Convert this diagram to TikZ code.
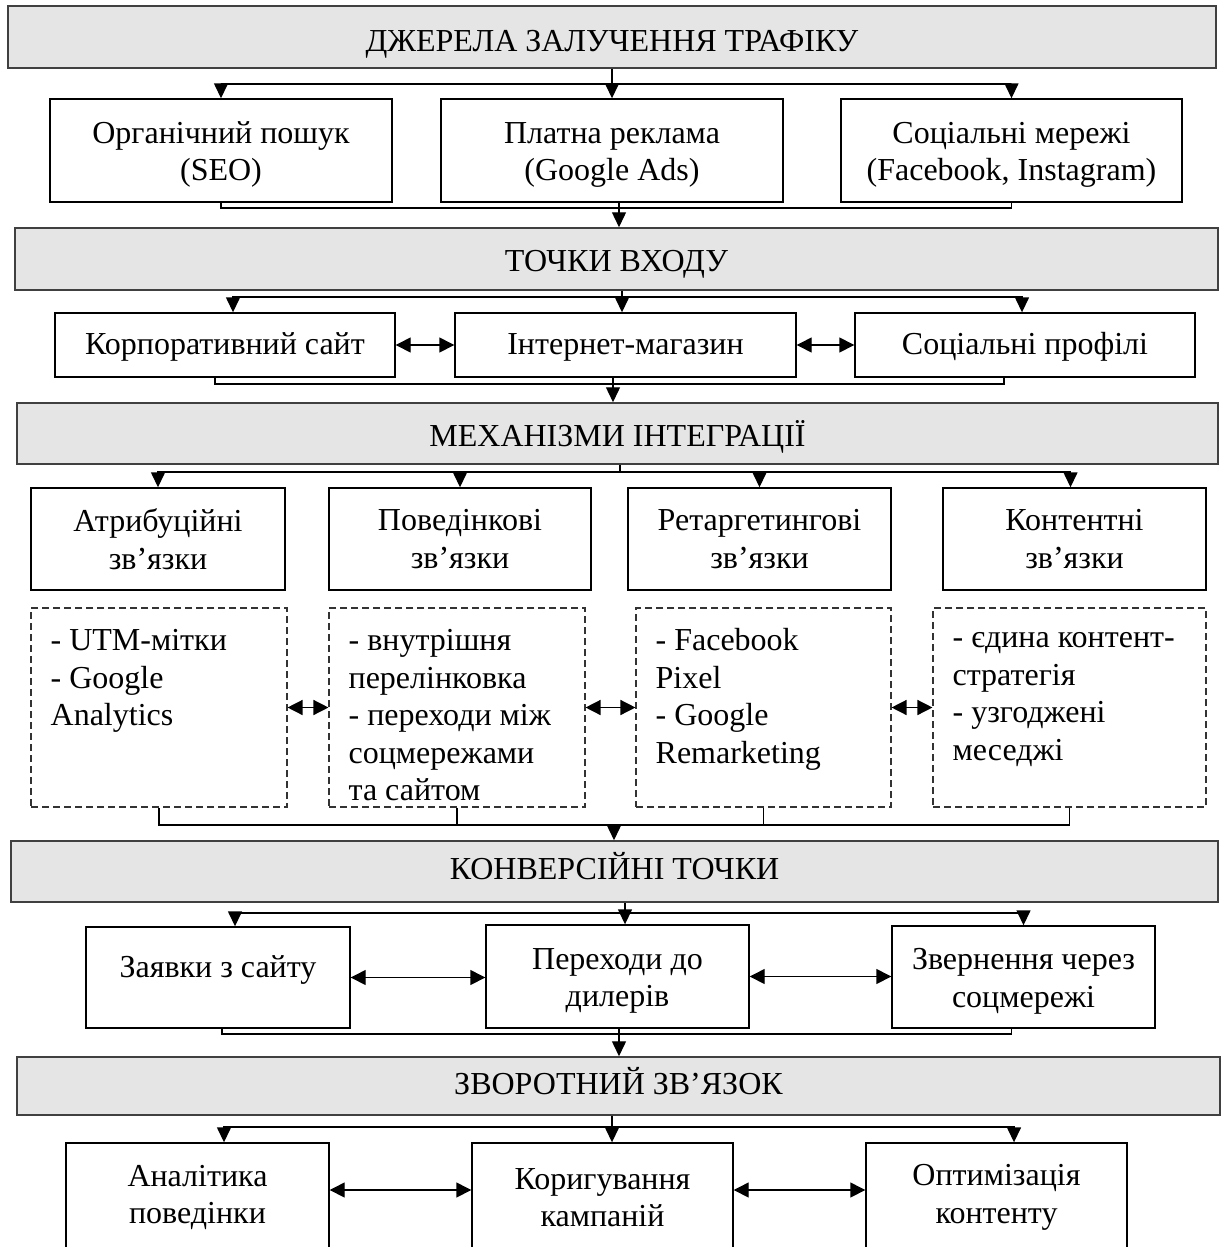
\documentclass[tikz,border=0pt]{standalone}
\usepackage{fontspec}
\setmainfont{Liberation Serif}
\usetikzlibrary{arrows.meta}
\newcommand{\lowr}{\rule{0pt}{30pt}}
\begin{document}
\begin{tikzpicture}[x=1pt,y=-1pt,
  font=\fontsize{32}{37.5}\selectfont,
  hdr/.style={draw=black!75,line width=1.5pt,fill=black!10,inner sep=0pt},
  box/.style={draw=black,line width=1.4pt,align=center,inner sep=0pt},
  dbox/.style={draw=black!80,line width=1.1pt,dash pattern=on 7pt off 4pt,inner sep=0pt},
  dtext/.style={anchor=north west,inner sep=0pt,align=left},
  ln/.style={draw=black,line width=1.4pt},
  arr/.style={ln,-{Triangle[length=15pt,width=14pt]}},
  darr/.style={ln,{Triangle[length=15pt,width=15pt]}-{Triangle[length=15pt,width=15pt]}}]
\useasboundingbox (0,0) rectangle (1223,1247);
\clip (0,0) rectangle (1223,1247);
\fill[white] (0,0) rectangle (1223,1247);

% headers
\node[hdr,minimum width=1208pt,minimum height=62pt,text height=29pt,text depth=0pt] (h1) at (612,37) {ДЖЕРЕЛА ЗАЛУЧЕННЯ ТРАФІКУ};
\node[hdr,minimum width=1203pt,minimum height=62pt,text height=25pt,text depth=0pt] (h2) at (616.5,259) {ТОЧКИ ВХОДУ};
\node[hdr,minimum width=1201pt,minimum height=61pt,text height=25pt,text depth=0pt] (h3) at (617.5,433.5) {МЕХАНІЗМИ ІНТЕГРАЦІЇ};
\node[hdr,minimum width=1207pt,minimum height=61pt,text height=22pt,text depth=6pt] (h4) at (614.5,871.5) {КОНВЕРСІЙНІ ТОЧКИ};
\node[hdr,minimum width=1203pt,minimum height=58pt,text height=22pt,text depth=6pt] (h5) at (618.5,1086) {ЗВОРОТНИЙ ЗВ’ЯЗОК};

% row 1
\node[box,minimum width=342pt,minimum height=103pt] (b11) at (221,150.5) {\lowr Органічний пошук\\(SEO)};
\node[box,minimum width=342pt,minimum height=103pt] (b12) at (612,150.5) {\lowr Платна реклама\\(Google Ads)};
\node[box,minimum width=341pt,minimum height=103pt] (b13) at (1011.5,150.5) {\lowr Соціальні мережі\\(Facebook, Instagram)};

% row 2
\node[box,minimum width=340pt,minimum height=64pt,text height=25pt,text depth=6pt] (b21) at (225,345) {Корпоративний сайт};
\node[box,minimum width=341pt,minimum height=64pt,text height=25pt,text depth=6pt] (b22) at (625.5,345) {Інтернет-магазин};
\node[box,minimum width=340pt,minimum height=64pt,text height=25pt,text depth=6pt] (b23) at (1025,345) {Соціальні профілі};

% row 3
\node[box,minimum width=254pt,minimum height=102pt] (b31) at (158,539) {Атрибуційні\\зв’язки};
\node[box,minimum width=262pt,minimum height=102pt] (b32) at (460,539) {Поведінкові\\зв’язки};
\node[box,minimum width=263pt,minimum height=102pt] (b33) at (759.5,539) {Ретаргетингові\\зв’язки};
\node[box,minimum width=263pt,minimum height=102pt] (b34) at (1074.5,539) {Контентні\\зв’язки};

% row 4 (dashed)
\node[dbox,minimum width=256pt,minimum height=199pt] (d1) at (159,707.5) {};
\node[dbox,minimum width=256pt,minimum height=199pt] (d2) at (457,707.5) {};
\node[dbox,minimum width=255pt,minimum height=199pt] (d3) at (763.5,707.5) {};
\node[dbox,minimum width=273pt,minimum height=199pt] (d4) at (1069.5,707.5) {};
\node[dtext] (d1t) at ([xshift=20pt,yshift=-17pt]d1.north west) {\strut- UTM-мітки\\- Google\\Analytics};
\node[dtext] (d2t) at ([xshift=20pt,yshift=-17pt]d2.north west) {\strut- внутрішня\\перелінковка\\- переходи між\\соцмережами\\та сайтом};
\node[dtext] (d3t) at ([xshift=20pt,yshift=-17pt]d3.north west) {\strut- Facebook\\Pixel\\- Google\\Remarketing};
\node[dtext] (d4t) at ([xshift=20pt,yshift=-14pt]d4.north west) {\strut- єдина контент-\\стратегія\\- узгоджені\\меседжі};

% row 5
\node[box,minimum width=264pt,minimum height=101pt,text height=22pt,text depth=22pt] (b51) at (218,977.5) {Заявки з сайту};
\node[box,minimum width=263pt,minimum height=103pt] (b52) at (617.5,976.5) {\lowr Переходи до\\дилерів};
\node[box,minimum width=263pt,minimum height=102pt] (b53) at (1023.5,977) {\lowr Звернення через\\соцмережі};

% row 6
\node[box,minimum width=263pt,minimum height=109pt] (b61) at (197.5,1197.5) {Аналітика\\поведінки};
\node[box,minimum width=261pt,minimum height=109pt] (b62) at (602.5,1197.5) {Коригування\\кампаній};
\node[box,minimum width=261pt,minimum height=109pt] (b63) at (996.5,1197.5) {Оптимізація\\контенту};

% fork 1
\coordinate (f1) at (612,84);
\draw[ln] (h1.south -| f1) -- (f1);
\draw[arr] (f1) -| (b11.north);
\draw[arr] (f1) -- (b12.north);
\draw[arr] (f1) -| (b13.north);
% collector 1
\coordinate (c1) at (619,208);
\draw[ln] (b11.south) |- (c1);
\draw[ln] (b13.south) |- (c1);
\draw[arr] (b12.south -| c1) -- (h2.north -| c1);

% fork 2
\coordinate (f2) at (622,297);
\draw[ln] (h2.south -| f2) -- (f2);
\draw[arr] (f2) -| ([xshift=8pt]b21.north);
\draw[arr] (f2) -- (b22.north -| f2);
\draw[arr] (f2) -| ([xshift=-3pt]b23.north);
\draw[darr] (b21.east) -- (b22.west);
\draw[darr] (b22.east) -- (b23.west);
% collector 2
\coordinate (c2) at (613,384);
\draw[ln] ([xshift=-10pt]b21.south) |- (c2);
\draw[ln] ([xshift=-21pt]b23.south) |- (c2);
\draw[arr] (b22.south -| c2) -- (h3.north -| c2);

% fork 3
\coordinate (f3) at (620,472);
\draw[ln] (h3.south -| f3) -- (f3);
\draw[arr] (f3) -| (b31.north);
\draw[arr] (f3) -| (b32.north);
\draw[arr] (f3) -| (b33.north);
\draw[arr] (f3) -| ([xshift=-4pt]b34.north);

% row 4 links
\draw[darr] (d1.east) -- (d2.west);
\draw[darr] (d2.east) -- (d3.west);
\draw[darr] (d3.east) -- (d4.west);
% collector 4
\coordinate (c4) at (614,825);
\draw[ln] (d1.south) |- (c4);
\draw[ln] (d2.south) |- (c4);
\draw[ln] (d3.south) |- (c4);
\draw[ln] (d4.south) |- (c4);
\draw[arr] (c4) -- (h4.north -| c4);

% fork 4
\coordinate (f4) at (625,913);
\draw[ln] (h4.south -| f4) -- (f4);
\draw[arr] (f4) -| ([xshift=17pt]b51.north);
\draw[arr] (f4) -- (b52.north -| f4);
\draw[arr] (f4) -| (b53.north);
\draw[darr] (b51.east) -- (b52.west |- b51.east);
\draw[darr] (b52.east) -- (b53.west |- b52.east);
% collector 5
\coordinate (c5) at (619,1034);
\draw[ln] ([xshift=4pt]b51.south) |- (c5);
\draw[ln] ([xshift=-12pt]b53.south) |- (c5);
\draw[arr] (b52.south -| c5) -- (h5.north -| c5);

% fork 5
\coordinate (f5) at (612,1127);
\draw[ln] (h5.south -| f5) -- (f5);
\draw[arr] (f5) -| ([xshift=26.5pt]b61.north);
\draw[arr] (f5) -- (b62.north -| f5);
\draw[arr] (f5) -| ([xshift=17.5pt]b63.north);
\draw[darr] ([yshift=7.5pt]b61.east) -- ([yshift=7.5pt]b62.west);
\draw[darr] ([yshift=7.5pt]b62.east) -- ([yshift=7.5pt]b63.west);
\end{tikzpicture}
\end{document}
